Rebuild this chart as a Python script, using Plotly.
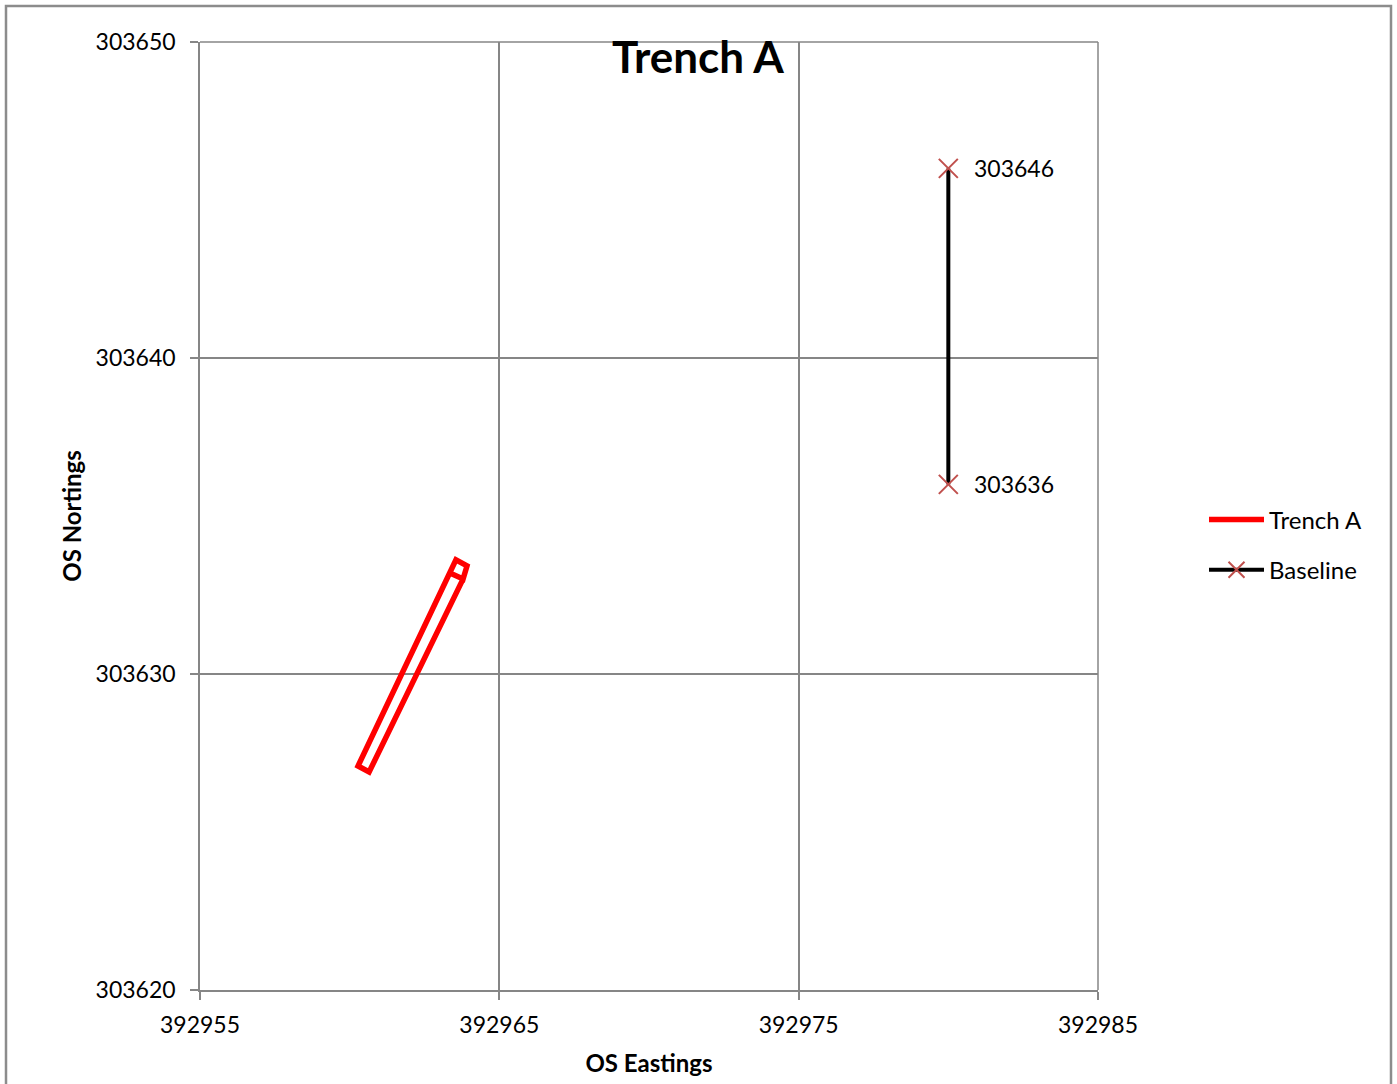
import plotly.graph_objects as go

# Trench A outline (OS Eastings / Northings)
trench_e = [392963.35, 392963.79, 392963.92, 392963.55, 392960.28, 392960.65, 392963.79]
trench_n = [303633.20, 303633.01, 303633.42, 303633.61, 303627.09, 303626.90, 303633.01]

# Baseline
base_e = [392980, 392980]
base_n = [303646, 303636]
base_labels = ["303646", "303636"]

x_ticks = [392955, 392965, 392975, 392985]
y_ticks = [303620, 303630, 303640, 303650]

FONT = "Lato"
GRID = "#868686"

fig = go.Figure()
fig.add_trace(go.Scatter(
    x=trench_e, y=trench_n, mode="lines", name="Trench A", legendgroup="a",
    line=dict(color="#FF0000", width=5.5), hoverinfo="skip"))
fig.add_trace(go.Scatter(
    x=base_e, y=base_n, mode="lines+markers", name="Baseline", legendgroup="b",
    line=dict(color="#000000", width=4),
    marker=dict(symbol="x-thin", size=19, color="#C0504D",
                line=dict(color="#C0504D", width=2))))

for e, n, t in zip(base_e, base_n, base_labels):
    fig.add_annotation(x=e, y=n, text=t, showarrow=False, xanchor="left",
                       xshift=24, font=dict(family=FONT, size=23, color="#000"))

axis_common = dict(showgrid=True, gridcolor=GRID, gridwidth=1.5, showline=True,
                   linecolor=GRID, linewidth=1.5, ticks="outside", ticklen=8,
                   tickcolor=GRID, tickwidth=1.5, zeroline=False, tickformat="d",
                   tickfont=dict(family=FONT, size=23, color="#000"), mirror=False)

fig.update_xaxes(range=[392955, 392985], tickvals=x_ticks, ticklabelstandoff=6, **axis_common,
                 title=dict(text="<b>OS Eastings</b>", font=dict(family=FONT, size=24, color="#000"), standoff=18))
fig.update_yaxes(range=[303620, 303650], tickvals=y_ticks, ticklabelstandoff=10, **axis_common,
                 title=dict(text="<b>OS Nortings</b>", font=dict(family=FONT, size=24, color="#000"), standoff=7))

# Right/top edges of plot area
fig.add_shape(type="line", xref="paper", yref="paper", x0=1, x1=1, y0=0, y1=1,
              line=dict(color=GRID, width=1.5))
fig.add_shape(type="line", xref="paper", yref="paper", x0=0, x1=1, y0=1, y1=1,
              line=dict(color=GRID, width=1.5))
# Outer chart border
fig.add_shape(type="rect", xref="paper", yref="paper",
              x0=(6 - 200) / 898, x1=(1391 - 200) / 898,
              y0=-(1100 - 990) / 948, y1=1 + (42 - 6) / 948,
              line=dict(color="#8C8C8C", width=2.5))

fig.update_layout(
    width=1397, height=1084,
    margin=dict(l=200, r=299, t=42, b=94),
    paper_bgcolor="white", plot_bgcolor="white",
    title=dict(text="<b>Trench A</b>", x=698/1397, xanchor="center",
               y=1 - 58/1084, yanchor="middle",
               font=dict(family=FONT, size=44, color="#000")),
    legend=dict(x=(1204 - 200) / 898, y=1 - (545 - 42) / 948, xanchor="left", yanchor="middle",
                font=dict(family=FONT, size=24, color="#000"),
                itemwidth=55, tracegroupgap=16, traceorder="grouped",
                bgcolor="rgba(0,0,0,0)"),
    showlegend=True,
)

fig.write_html("out.html", config={"displayModeBar": False},
               post_script="document.body.style.margin='0';document.body.style.overflow='hidden';")
